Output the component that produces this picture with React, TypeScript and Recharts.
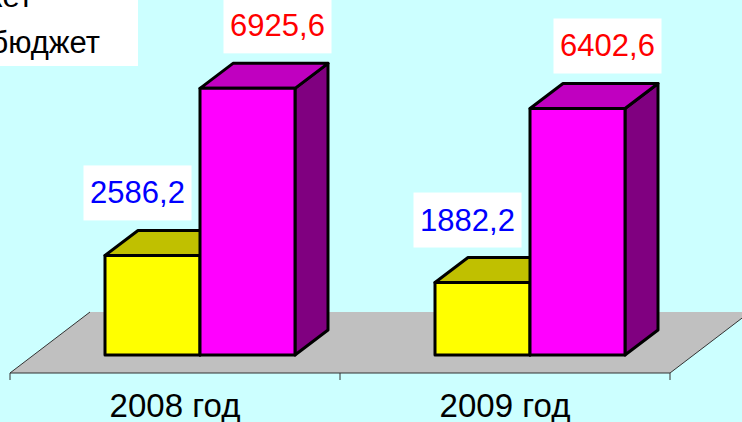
import React from 'react';
import { BarChart, Bar, XAxis, YAxis, LabelList, Customized } from 'recharts';

const categories = ['2008 год', '2009 год'];
const localValues = [2586.2, 1882.2];
const regionalValues = [6925.6, 6402.6];
const seriesNames = ['Местный бюджет', 'Областной бюджет'];

const data = categories.map((name, i) => ({
  name,
  local: localValues[i],
  regional: regionalValues[i],
}));

const W = 742;
const H = 422;
const MARGIN = { top: 65, right: 72, bottom: 0, left: 10 };
const AXIS_H = 49;
const FONT = '"Liberation Sans", Arial, sans-serif';

// bar depth and where the bar sits on the floor
const DEPTH_X = 33;
const DEPTH_Y = 25;
const SHIFT_X = 25;
const SHIFT_Y = 18;
// floor depth
const FLOOR_X = 80;
const FLOOR_Y = 61;

const pts = (list: number[][]) => list.map(p => p.join(',')).join(' ');

const Floor = () => {
  const left = MARGIN.left;
  const right = W - MARGIN.right;
  const bottom = H - AXIS_H;
  const step = (right - left) / categories.length;
  const ticks = Array.from({ length: categories.length + 1 }, (_, i) => left + i * step);
  return (
    <g>
      <polygon
        points={pts([[left, bottom], [right, bottom], [right + FLOOR_X, bottom - FLOOR_Y], [left + FLOOR_X, bottom - FLOOR_Y]])}
        fill="#c0c0c0"
      />
      <polyline
        points={pts([[left + FLOOR_X, bottom - FLOOR_Y], [left, bottom], [right, bottom], [right + FLOOR_X, bottom - FLOOR_Y]])}
        fill="none"
        stroke="#333"
        strokeWidth={1}
      />
      {ticks.map(x => (
        <line key={x} x1={x} x2={x} y1={bottom} y2={bottom + 7} stroke="#333" strokeWidth={1} />
      ))}
    </g>
  );
};

const make3D = (front: string, top: string, side: string) => (props: any) => {
  const { x, y, width, height } = props;
  if (!width || height == null) return null;
  const X = x + SHIFT_X;
  const T = y - SHIFT_Y;
  const B = y + height - SHIFT_Y;
  const R = X + width;
  const line = { stroke: '#000', strokeWidth: 3, strokeLinejoin: 'round' as const };
  return (
    <g>
      <polygon points={pts([[R, T], [R + DEPTH_X, T - DEPTH_Y], [R + DEPTH_X, B - DEPTH_Y], [R, B]])} fill={side} {...line} />
      <polygon points={pts([[X, T], [R, T], [R + DEPTH_X, T - DEPTH_Y], [X + DEPTH_X, T - DEPTH_Y]])} fill={top} {...line} />
      <rect x={X} y={T} width={width} height={height} fill={front} {...line} />
    </g>
  );
};

const makeLabel = (color: string, offsetX: number) => (props: any) => {
  const vb = props.viewBox || {};
  const x = props.x ?? vb.x;
  const y = props.y ?? vb.y;
  const width = props.width ?? vb.width;
  const cx = x + SHIFT_X + width / 2 + offsetX;
  const cy = y - SHIFT_Y - 63;
  const text = Number(props.value).toFixed(1).replace('.', ',');
  return (
    <g>
      <rect x={cx - 54} y={cy - 27} width={108} height={55} fill="#fff" />
      <text x={cx} y={cy + 11} textAnchor="middle" fontSize={31} fontFamily={FONT} fill={color}>
        {text}
      </text>
    </g>
  );
};

const AxisTick = (props: any) => {
  const { x, payload } = props;
  return (
    <text x={x} y={H - AXIS_H + 44} textAnchor="middle" fontSize={33} fontFamily={FONT} fill="#000">
      {payload.value}
    </text>
  );
};

export default function App() {
  return (
    <div style={{ position: 'absolute', left: 0, top: 0, width: W, height: H, background: '#ccffff', overflow: 'hidden' }}>
      <BarChart width={W} height={H} data={data} margin={MARGIN} barCategoryGap={70} barGap={0}>
        <Customized component={Floor} />
        <XAxis dataKey="name" height={AXIS_H} axisLine={false} tickLine={false} tick={<AxisTick />} interval={0} />
        <YAxis hide domain={[0, 8000]} />
        <Bar dataKey="local" name={seriesNames[0]} fill="#ffff00" shape={make3D('#ffff00', '#c0c000', '#808000')} isAnimationActive={false}>
          <LabelList dataKey="local" content={makeLabel('#0000ff', -15)} />
        </Bar>
        <Bar dataKey="regional" name={seriesNames[1]} fill="#ff00ff" shape={make3D('#ff00ff', '#c000c0', '#800080')} isAnimationActive={false}>
          <LabelList dataKey="regional" content={makeLabel('#ff0000', 30)} />
        </Bar>
      </BarChart>
      <div style={{ position: 'absolute', left: 0, top: 0, width: 138, height: 66, background: '#fff', overflow: 'hidden', fontFamily: FONT, fontSize: 31, lineHeight: '31px', color: '#000' }}>
        <span style={{ position: 'absolute', right: 138 - 33, top: -19, whiteSpace: 'nowrap' }}>{seriesNames[0]}</span>
        <span style={{ position: 'absolute', right: 138 - 100, top: 27, whiteSpace: 'nowrap' }}>{seriesNames[1]}</span>
      </div>
    </div>
  );
}
